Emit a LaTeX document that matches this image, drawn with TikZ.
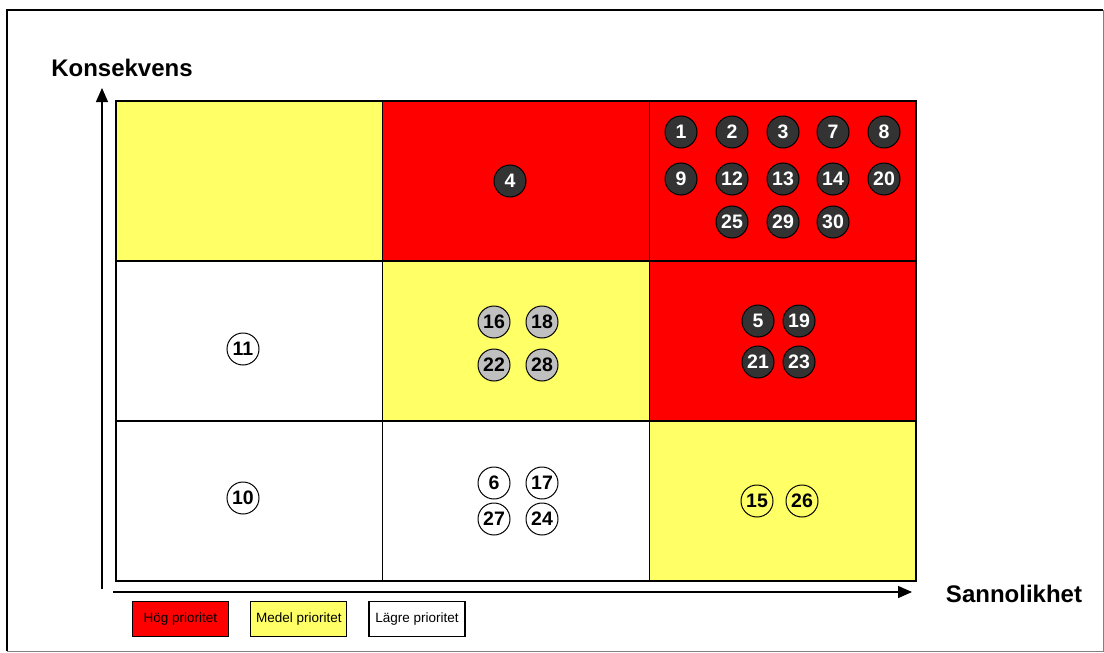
\documentclass[tikz,border=0pt]{standalone}
\usepackage{fontspec}
\setmainfont{Liberation Sans}
\usepackage{xcolor}
\usepackage{tikz}
\usetikzlibrary{arrows.meta, positioning}
\definecolor{riskred}{RGB}{255, 0, 0}
\definecolor{riskyellow}{RGB}{255, 255, 102}
\definecolor{riskdark}{RGB}{51, 51, 51}
\definecolor{riskgrey}{RGB}{192, 192, 192}

\begin{document}
\begin{tikzpicture}[
    x=1pt, y=-1pt,
    cell/.style={
        rectangle,
        draw=black,
        line width=1.5pt,
        minimum width=266.7pt,
        minimum height=160pt,
        inner sep=0pt
    },
    risk/.style={
        circle,
        draw=black,
        line width=1pt,
        minimum size=32pt,
        inner sep=0pt,
        font=\fontsize{19.5}{19.5}\selectfont\bfseries
    },
    hog/.style={risk, fill=riskdark, text=white},
    medel/.style={risk, fill=riskgrey},
    lagre/.style={risk},
    legendbox/.style={
        rectangle,
        draw=black,
        line width=1.3pt,
        minimum width=96pt,
        minimum height=35pt,
        font=\fontsize{13.5}{13.5}\selectfont
    },
    axis/.style={-{Triangle[length=14pt, width=12pt]}, line width=1.4pt, draw=black},
    axislabel/.style={font=\fontsize{24}{24}\selectfont\bfseries}
]
    \useasboundingbox (0,0) rectangle (1104,653);
    \draw[line width=1.6pt] (7,651) -- (7,10) -- (1103,10);
    \draw[gray, line width=1pt] (1103,10) -- (1103,651) -- (7,651);

    % matrix cells
    \node[cell, fill=riskyellow] (c13) at (249.3,181) {};
    \node[cell, fill=riskred]    (c23) at (516,181)   {};
    \node[cell, fill=riskred]    (c33) at (782.7,181) {};
    \node[cell, fill=white]      (c12) at (249.3,341) {};
    \node[cell, fill=riskyellow] (c22) at (516,341)   {};
    \node[cell, fill=riskred]    (c32) at (782.7,341) {};
    \node[cell, fill=white]      (c11) at (249.3,501) {};
    \node[cell, fill=white]      (c21) at (516,501)   {};
    \node[cell, fill=riskyellow] (c31) at (782.7,501) {};

    % axes
    \coordinate (ystart) at (102,589);
    \coordinate (yend)   at (102,88);
    \coordinate (xstart) at (113,592);
    \coordinate (xend)   at (912,592);
    \draw[axis] (ystart) -- (yend);
    \draw[axis] (xstart) -- (xend);
    \node[axislabel] (konsekvens) at (122,68) {Konsekvens};
    \node[axislabel] (sannolikhet) at (1014,594) {Sannolikhet};

    % hog prioritet
    \node[hog] (r1)  at (681,132) {1};
    \node[hog] (r2)  at (732,132) {2};
    \node[hog] (r3)  at (783,132) {3};
    \node[hog] (r7)  at (833,132) {7};
    \node[hog] (r8)  at (884,132) {8};
    \node[hog] (r9)  at (681,179) {9};
    \node[hog] (r12) at (732,179) {12};
    \node[hog] (r13) at (783,179) {13};
    \node[hog] (r14) at (833,179) {14};
    \node[hog] (r20) at (884,179) {20};
    \node[hog] (r25) at (732,222) {25};
    \node[hog] (r29) at (783,222) {29};
    \node[hog] (r30) at (833,222) {30};
    \node[hog] (r4)  at (510,181) {4};
    \node[hog] (r5)  at (758,321) {5};
    \node[hog] (r19) at (799,321) {19};
    \node[hog] (r21) at (758,362) {21};
    \node[hog] (r23) at (799,362) {23};

    % medel prioritet
    \node[medel] (r16) at (494,322) {16};
    \node[medel] (r18) at (542,322) {18};
    \node[medel] (r22) at (494,365) {22};
    \node[medel] (r28) at (542,365) {28};

    % lagre prioritet
    \node[lagre] (r11) at (243,349) {11};
    \node[lagre] (r10) at (243,498) {10};
    \node[lagre] (r6)  at (494,483) {6};
    \node[lagre] (r17) at (542,483) {17};
    \node[lagre] (r27) at (494,519) {27};
    \node[lagre] (r24) at (542,519) {24};
    \node[lagre] (r15) at (757,501) {15};
    \node[lagre] (r26) at (802,501) {26};

    % legend
    \node[legendbox, fill=riskred] (leghog) at (180.5,619) {Hög prioritet};
    \node[legendbox, fill=riskyellow, right=21pt of leghog] (legmedel) {Medel prioritet};
    \node[legendbox, fill=white, right=21pt of legmedel] (leglagre) {Lägre prioritet};
\end{tikzpicture}
\end{document}
